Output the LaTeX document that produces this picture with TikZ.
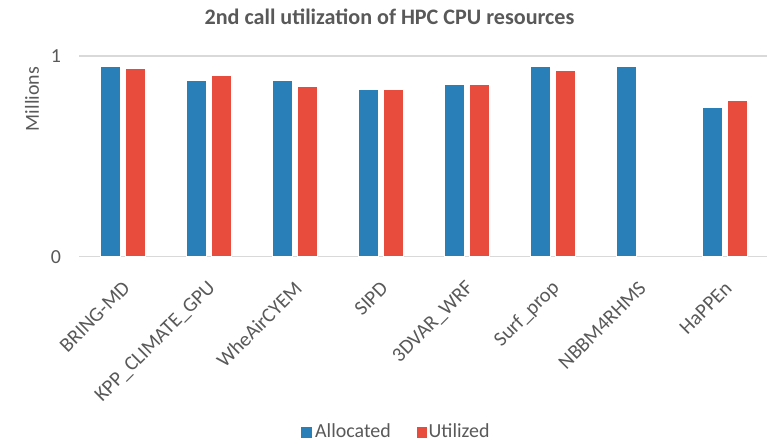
\documentclass[tikz,border=0pt]{standalone}
\usepackage{fontspec}
\setmainfont{Carlito}
\definecolor{barblue}{HTML}{2980B9}
\definecolor{barred}{HTML}{E74C3C}
\definecolor{txtgray}{HTML}{595959}
\definecolor{gridgray}{HTML}{D9D9D9}
\tikzset{
  charttitle/.style={font=\bfseries\fontsize{22.2}{24}\selectfont, text=txtgray, inner sep=0pt},
  lbl/.style={font=\fontsize{20}{22}\selectfont, text=txtgray, inner sep=0pt},
  catlbl/.style={font=\fontsize{20.5}{22}\selectfont, text=txtgray, inner sep=0pt, rotate=45, anchor=east},
  gridline/.style={draw=gridgray, line width=1.3bp},
  bar/.style={draw=white, line width=0.6bp},
}
\begin{document}
\begin{tikzpicture}[x=1bp,y=1bp]
\useasboundingbox[fill=white] (0,0) rectangle (769,444);
% title
\node[charttitle] (title) at (389.5,427) {2nd call utilization of HPC CPU resources};
% grid
\draw[gridline] (79,388) -- (767,388);
\draw[gridline] (79,187.5) -- (767,187.5);
% tick labels
\node[lbl] (t1) at (56,388) {1};
\node[lbl] (t0) at (56,187) {0};
\node[lbl, rotate=90] (ylab) at (32,345) {Millions};
% bars
\foreach \k/\a/\u in {0/0.95/0.939, 1/0.88/0.904, 2/0.88/0.849, 3/0.834/0.834, 4/0.86/0.86, 5/0.95/0.929, 6/0.95/0, 7/0.742/0.779}{
  \pgfmathsetmacro{\cx}{123+86*\k}
  \pgfmathsetmacro{\bl}{\cx-22.3}
  \pgfmathsetmacro{\rl}{\cx+2.5}
  \pgfmathsetmacro{\ta}{187.5+\a*200.5}
  \pgfmathsetmacro{\tu}{187.5+\u*200.5}
  \filldraw[fill=barblue, bar] (\bl,187.5) rectangle ({\bl+19.8},\ta);
  \ifdim\u pt>0pt
    \filldraw[fill=barred, bar] (\rl,187.5) rectangle ({\rl+19.8},\tu);
  \fi
}
% category labels
\node[catlbl] (c0) at (126.5,159) {BRING-MD};
\node[catlbl] (c1) at (212.5,159) {KPP\_CLIMATE\_GPU};
\node[catlbl] (c2) at (298.5,159) {WheAirCYEM};
\node[catlbl] (c3) at (384.5,159) {SIPD};
\node[catlbl] (c4) at (470.5,159) {3DVAR\_WRF};
\node[catlbl] (c5) at (556.5,159) {Surf\_prop};
\node[catlbl] (c6) at (642.5,159) {NBBM4RHMS};
\node[catlbl] (c7) at (728.5,159) {HaPPEn};
% legend
\fill[barblue] (301,5.7) rectangle (311.8,16.5);
\node[lbl, anchor=base west] (lega) at (315,6) {Allocated};
\fill[barred] (416.5,5.7) rectangle (427.3,16.5);
\node[lbl, anchor=base west] (legu) at (428.5,6) {Utilized};
\end{tikzpicture}
\end{document}
